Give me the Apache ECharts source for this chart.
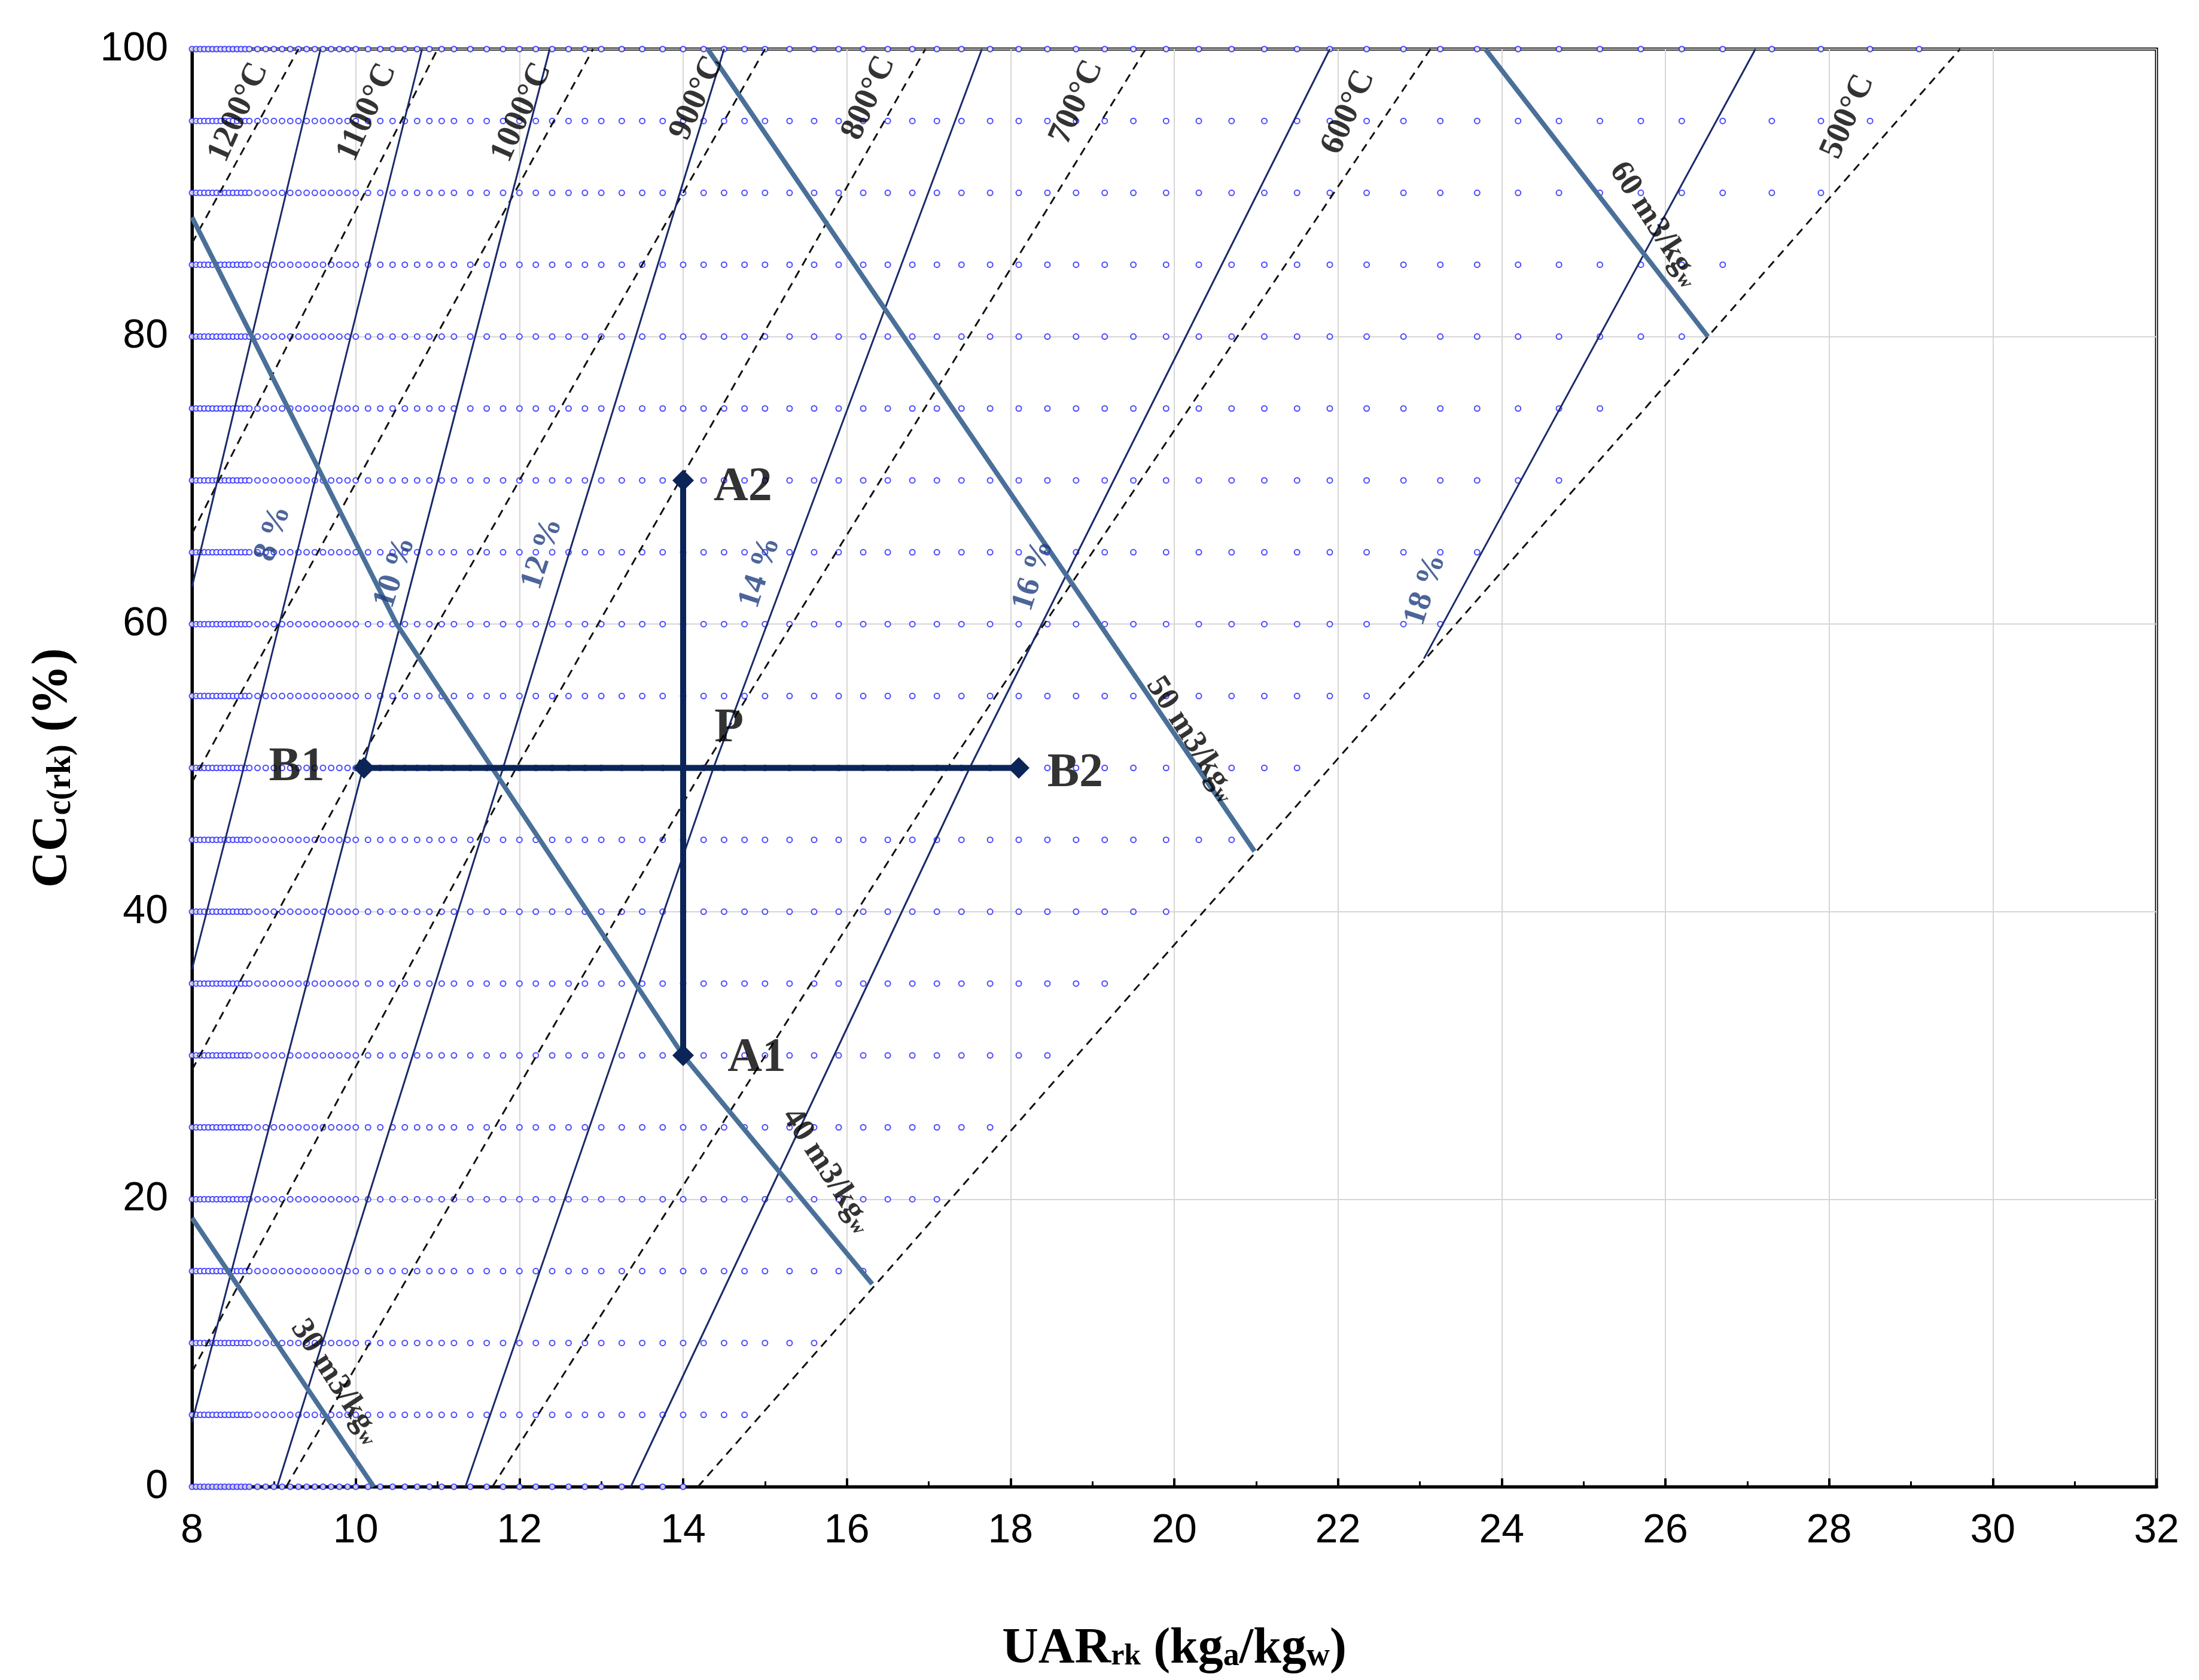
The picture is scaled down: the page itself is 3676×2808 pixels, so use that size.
<!DOCTYPE html>
<html>
<head>
<meta charset="UTF-8">
<script src="https://cdn.jsdelivr.net/npm/echarts@6/dist/echarts.min.js"></script>
<style>html,body{margin:0;background:#fff}#main{width:3676px;height:2808px}</style>
</head>
<body>
<div id="main"></div>
<script>
// temperature isolines (dashed)
var tempNames = ['1200°C', '1100°C', '1000°C', '900°C', '800°C', '700°C', '600°C', '500°C'];
var tempLines = [
    [[8, 86.5], [9.3, 100]],
    [[8, 66.3], [11.0, 100]],
    [[8, 49], [12.9, 100]],
    [[8, 29], [10.0, 50], [15.0, 100]],
    [[8, 8], [11.96, 50], [16.96, 100]],
    [[9.15, 0], [14.25, 50], [19.65, 100]],
    [[11.67, 0], [17.23, 50], [23.13, 100]],
    [[14.18, 0], [21.9, 50], [29.6, 100]]
];
var tempLabelPos = [[8.57, 95.6], [10.14, 95.6], [12.03, 95.6], [14.17, 96.6], [16.27, 96.6], [18.81, 96.3], [22.13, 95.6], [28.23, 95.3]];

// percent isolines (thin solid)
var pctLines = [
    [[8, 62.6], [9.57, 100]],
    [[8, 36], [8.63, 50], [10.81, 100]],
    [[8, 4.5], [10.09, 50], [12.37, 100]],
    [[9.04, 0], [11.80, 50], [14.5, 100]],
    [[11.34, 0], [14.37, 50], [17.65, 100]],
    [[13.36, 0], [17.50, 50], [21.9, 100]],
    [[23.05, 57.6], [27.1, 100]]
];
var pctNames = ['8 %', '10 %', '12 %', '14 %', '16 %', '18 %'];
var pctLabelPos = [[8.99, 66.3], [10.48, 63.6], [12.28, 64.9], [14.94, 63.6], [18.28, 63.4], [23.07, 62.4]];

// specific volume lines (thick steel blue)
var volLines = [
    [[8, 18.7], [10.22, 0]],
    [[8, 88.3], [10.5, 60], [14, 30], [16.31, 14.1]],
    [[14.3, 100], [20.98, 44.2]],
    [[23.8, 100], [26.52, 80]]
];
var volNames = ['30', '40', '50', '60'];
var volLabelPos = [[9.76, 7.3], [15.76, 22.0], [20.21, 52.0], [25.87, 87.8]];

// experiment points
var lineA = [[14, 30], [14, 70]];
var lineB = [[10.1, 50], [18.1, 50]];
var pointNames = ['A1', 'A2', 'B1', 'B2', 'P'];
var pointLabelPos = [[14.9, 29.8], [14.73, 69.5], [9.28, 50], [18.79, 49.6], [14.56, 52.7]];

// dotted grid rows
var dotRows = [0, 5, 10, 15, 20, 25, 30, 35, 40, 45, 50, 55, 60, 65, 70, 75, 80, 85, 90, 95, 100];
var dotCols = [8.0, 8.05, 8.1, 8.15, 8.2, 8.25, 8.3, 8.35, 8.4, 8.45, 8.5, 8.55, 8.6, 8.65, 8.7, 8.8, 8.9, 9.0, 9.1, 9.2, 9.3, 9.4, 9.5, 9.6, 9.7, 9.8, 9.9, 10.0, 10.15, 10.3, 10.45, 10.6, 10.75, 10.9, 11.05, 11.2, 11.4, 11.6, 11.8, 12.0, 12.2, 12.4, 12.6, 12.8, 13.0, 13.25, 13.5, 13.75, 14.0, 14.25, 14.5, 14.75, 15.0, 15.3, 15.6, 15.9, 16.2, 16.5, 16.8, 17.1, 17.4, 17.75, 18.1, 18.45, 18.8, 19.15, 19.5, 19.9, 20.3, 20.7, 21.1, 21.5, 21.9, 22.35, 22.8, 23.25, 23.7, 24.2, 24.7, 25.2, 25.7, 26.2, 26.7, 27.3, 27.9, 28.5, 29.1];

var xTicks = [8, 10, 12, 14, 16, 18, 20, 22, 24, 26, 28, 30, 32];
var yTicks = [0, 20, 40, 60, 80, 100];

// x of the 500°C line at a given y, used to clip the dot rows
function edge500(y) {
    var p = tempLines[7];
    for (var i = 0; i < p.length - 1; i++) {
        if (y <= p[i + 1][1]) return p[i][0] + (p[i + 1][0] - p[i][0]) * (y - p[i][1]) / (p[i + 1][1] - p[i][1]);
    }
    return p[p.length - 1][0];
}
var dots = [];
dotRows.forEach(function (y) {
    dotCols.forEach(function (x) { if (x < edge500(y) - 0.1) dots.push([x, y]); });
});

var serif = 'Liberation Serif';
var series = [];
series.push({
    type: 'scatter', data: dots, symbol: 'emptyCircle', symbolSize: 9, silent: true, large: false,
    itemStyle: { color: '#1a1aff', borderWidth: 2 }, z: 1
});
tempLines.forEach(function (d) {
    series.push({ type: 'line', data: d, showSymbol: false, silent: true,
        lineStyle: { color: '#111', width: 3, type: [14, 10] }, z: 2 });
});
pctLines.forEach(function (d) {
    series.push({ type: 'line', data: d, showSymbol: false, silent: true,
        lineStyle: { color: '#1b2a6b', width: 3 }, z: 2 });
});
volLines.forEach(function (d) {
    series.push({ type: 'line', data: d, showSymbol: false, silent: true,
        lineStyle: { color: '#4a7099', width: 8 }, z: 3 });
});
[lineA, lineB].forEach(function (d) {
    series.push({ type: 'line', data: d, symbol: 'diamond', symbolSize: 36, showAllSymbol: true,
        itemStyle: { color: '#0b2559' }, lineStyle: { color: '#0b2559', width: 10 }, z: 5 });
});

function textSeries(pos, names, rot, style) {
    return {
        type: 'scatter', symbolSize: 0, silent: true, z: 6,
        data: pos.map(function (p, i) { return { value: p, name: names[i] }; }),
        label: Object.assign({ show: true, position: 'inside', rotate: rot,
            formatter: function (o) { return o.name; } }, style)
    };
}
series.push(textSeries(tempLabelPos, tempNames, 66,
    { fontFamily: serif, fontWeight: 'bold', fontSize: 56, color: '#000' }));
series.push(textSeries(pctLabelPos, pctNames, 72,
    { fontFamily: serif, fontWeight: 'bold', fontSize: 54, color: '#1f3f7f' }));
series.push({
    type: 'scatter', symbolSize: 0, silent: true, z: 6,
    data: volLabelPos.map(function (p, i) { return { value: p, name: volNames[i] }; }),
    label: { show: true, position: 'inside', rotate: -57, fontFamily: serif, fontWeight: 'bold', fontSize: 54, color: '#000',
        formatter: function (o) { return o.name + ' m3/kg{s|w}'; },
        rich: { s: { fontFamily: serif, fontWeight: 'bold', fontSize: 34, verticalAlign: 'bottom', padding: [20, 0, 0, 0] } } }
});
series.push(textSeries(pointLabelPos, pointNames, 0,
    { fontFamily: serif, fontWeight: 'bold', fontSize: 80, color: '#000' }));

var chart = echarts.init(document.getElementById('main'));
chart.setOption({
    backgroundColor: '#fff',
    animation: false,
    grid: { left: 321, right: 71, top: 82, bottom: 323, show: true, borderColor: '#000', borderWidth: 5 },
    xAxis: {
        type: 'value', min: xTicks[0], max: xTicks[xTicks.length - 1], interval: 2,
        name: 'UAR{s|rk} (kg{s2|a}/kg{s2|w})', nameLocation: 'middle', nameGap: 230,
        nameTextStyle: { fontFamily: serif, fontWeight: 'bold', fontSize: 84, color: '#000',
            rich: { s: { fontFamily: serif, fontWeight: 'bold', fontSize: 50, padding: [24, 0, 0, 0] },
                    s2: { fontFamily: serif, fontWeight: 'bold', fontSize: 54, padding: [24, 0, 0, 0] } } },
        axisLine: { lineStyle: { color: '#000', width: 5 } },
        axisTick: { inside: true, length: 14, lineStyle: { color: '#000', width: 4 } },
        minorTick: { show: true, splitNumber: 2, length: 9, lineStyle: { color: '#000', width: 3 } },
        axisLabel: { fontFamily: 'Liberation Sans', fontSize: 68, color: '#000', margin: 40 },
        splitLine: { lineStyle: { color: '#d6d6d6', width: 2 } }
    },
    yAxis: {
        type: 'value', min: yTicks[0], max: yTicks[yTicks.length - 1], interval: 20,
        name: 'CC{s|c(rk)} (%)', nameLocation: 'middle', nameGap: 190, nameRotate: 90,
        nameTextStyle: { fontFamily: serif, fontWeight: 'bold', fontSize: 84, color: '#000',
            rich: { s: { fontFamily: serif, fontWeight: 'bold', fontSize: 56, verticalAlign: 'bottom' } } },
        axisLine: { lineStyle: { color: '#000', width: 5 } },
        axisTick: { inside: true, length: 14, lineStyle: { color: '#000', width: 4 } },
        minorTick: { show: true, splitNumber: 4, length: 9, lineStyle: { color: '#000', width: 3 } },
        axisLabel: { fontFamily: 'Liberation Sans', fontSize: 68, color: '#000', margin: 40 },
        splitLine: { lineStyle: { color: '#d6d6d6', width: 2 } }
    },
    series: series
});
</script>
</body>
</html>
